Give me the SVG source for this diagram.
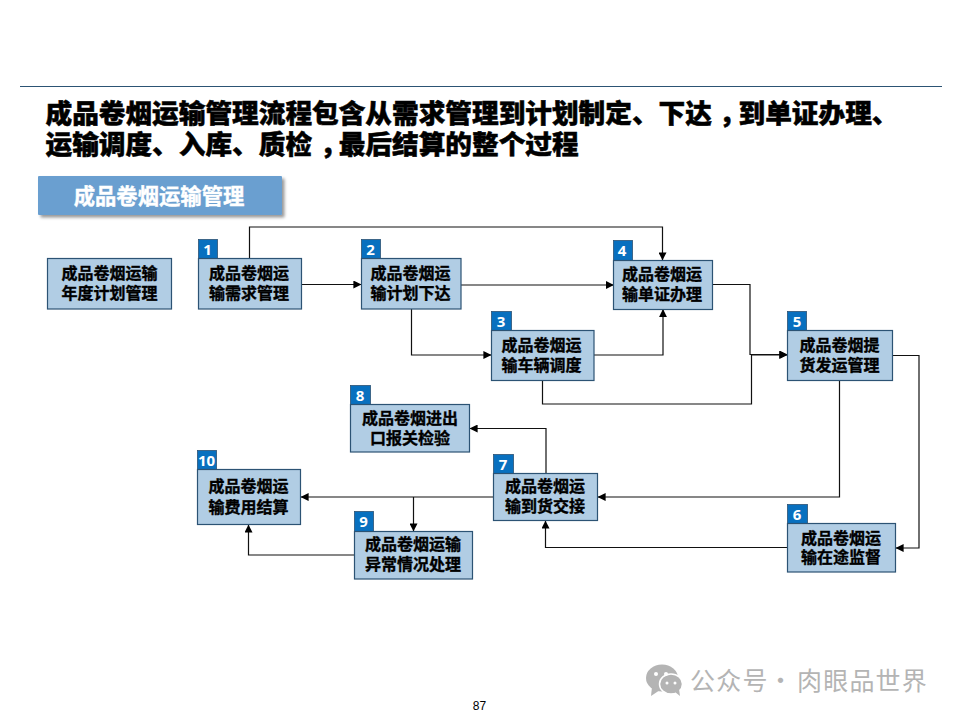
<svg xmlns="http://www.w3.org/2000/svg" width="960" height="720" viewBox="0 0 960 720">
<style>
text{font-family:"Noto Sans CJK SC","Liberation Sans",sans-serif}
.box{fill:#b1cde4;stroke:#2c5374;stroke-width:1.2}
.badge{fill:#0870bf;stroke:#2c5374;stroke-width:.8}
.num{font-family:"Open Sans","DejaVu Sans",sans-serif;font-weight:700;font-size:15px;fill:#fff;text-anchor:middle}
.lbl{font-weight:700;font-size:16px;fill:#000;text-anchor:middle;stroke:#000;stroke-width:.35}
.ttl{font-weight:900;font-size:26.67px;fill:#000;stroke:#000;stroke-width:.5}
.c{fill:none;stroke:#111;stroke-width:1.2;marker-end:url(#a)}
</style>
<defs>
<marker id="a" viewBox="0 0 8 8" refX="7.6" refY="4" markerUnits="userSpaceOnUse" markerWidth="8" markerHeight="8" orient="auto"><path d="M0 0L8 4L0 8Z" fill="#000"/></marker>
<filter id="s" x="-5%" y="-20%" width="115%" height="150%"><feDropShadow dx="2.5" dy="2.5" stdDeviation="1.5" flood-color="#000" flood-opacity=".4"/></filter>
</defs>
<line x1="20" y1="86.500" x2="942" y2="86.500" stroke="#2c5374" stroke-width="1.2"/>
<text class="ttl"><tspan x="45.500" y="122.500">成品卷烟运输管理流程包含从需求管理到计划制定、下达<tspan dx="7">，</tspan><tspan dx="-7">到单证办理、</tspan></tspan><tspan x="45.500" y="154">运输调度、入库、质检<tspan dx="8">，</tspan><tspan dx="-8">最后结算的整个过程</tspan></tspan></text>
<g id="header">
<rect x="38" y="176" width="244" height="39" rx="1" fill="#6a9fd0" filter="url(#s)"/>
<text x="159" y="204" font-size="21.33" font-weight="700" fill="#fff" stroke="#fff" stroke-width=".4" text-anchor="middle">成品卷烟运输管理</text>
</g>
<g id="connectors">
<path class="c" d="M249.500 258.500V227H662.500V260"/>
<path class="c" d="M301.500 284.500H361"/>
<path class="c" d="M461 285H613.500"/>
<path class="c" d="M411.500 309V355H491"/>
<path class="c" d="M594 355H663V309.500"/>
<path class="c" d="M712.500 284.500H750V354.500H787"/>
<path class="c" d="M542.500 380.500V404H751.500V355H787"/>
<path class="c" d="M892.500 355.500H919V548H896"/>
<path class="c" d="M839.500 380.500V497H598"/>
<path class="c" d="M787.500 547.500H545.500V521"/>
<path class="c" d="M546 473.500V428.500H470"/>
<path class="c" d="M493.500 497H301"/>
<path class="c" d="M413.500 497V531"/>
<path class="c" d="M354.500 555H248.500V525"/>
</g>
<g id="node-plan"><rect class="box" x="47.500" y="258.500" width="124" height="50.500"/><text class="lbl"><tspan x="109.500" y="279">成品卷烟运输</tspan><tspan x="109.500" y="299">年度计划管理</tspan></text></g>
<g id="node-1"><rect class="badge" x="198.500" y="239.500" width="19" height="19"/><text class="num" x="207.500" y="254.500">1</text><rect class="box" x="198.500" y="258.500" width="103" height="50.500"/><text class="lbl"><tspan x="249" y="279">成品卷烟运</tspan><tspan x="249" y="299">输需求管理</tspan></text></g>
<g id="node-2"><rect class="badge" x="361.500" y="239.500" width="19" height="19"/><text class="num" x="370.500" y="254.500">2</text><rect class="box" x="361.500" y="258.500" width="99.500" height="50.500"/><text class="lbl"><tspan x="410.500" y="279">成品卷烟运</tspan><tspan x="410.500" y="299">输计划下达</tspan></text></g>
<g id="node-3"><rect class="badge" x="491.500" y="311.500" width="20" height="19"/><text class="num" x="501" y="326.500">3</text><rect class="box" x="491.500" y="330.500" width="102.500" height="50"/><text class="lbl"><tspan x="541.500" y="351">成品卷烟运</tspan><tspan x="541.500" y="371">输车辆调度</tspan></text></g>
<g id="node-4"><rect class="badge" x="613.500" y="240.500" width="19" height="20"/><text class="num" x="622" y="256">4</text><rect class="box" x="613.500" y="260.500" width="99" height="49"/><text class="lbl"><tspan x="662" y="280">成品卷烟运</tspan><tspan x="662" y="300">输单证办理</tspan></text></g>
<g id="node-5"><rect class="badge" x="787.500" y="311.500" width="19" height="19"/><text class="num" x="797" y="326.500">5</text><rect class="box" x="787.500" y="330.500" width="105" height="50"/><text class="lbl"><tspan x="839.500" y="351">成品卷烟提</tspan><tspan x="839.500" y="371">货发运管理</tspan></text></g>
<g id="node-6"><rect class="badge" x="787.500" y="504.500" width="20" height="19"/><text class="num" x="797" y="519.500">6</text><rect class="box" x="787.500" y="523.500" width="108" height="48.500"/><text class="lbl"><tspan x="841" y="544">成品卷烟运</tspan><tspan x="841" y="563">输在途监督</tspan></text></g>
<g id="node-7"><rect class="badge" x="493.500" y="454.500" width="20" height="19"/><text class="num" x="503" y="469.500">7</text><rect class="box" x="493.500" y="473.500" width="104" height="47"/><text class="lbl"><tspan x="545" y="492">成品卷烟运</tspan><tspan x="545" y="512">输到货交接</tspan></text></g>
<g id="node-8"><rect class="badge" x="350.500" y="385.500" width="20" height="19"/><text class="num" x="360" y="400.500">8</text><rect class="box" x="350.500" y="404.500" width="119" height="47.500"/><text class="lbl"><tspan x="410" y="424">成品卷烟进出</tspan><tspan x="410" y="444">口报关检验</tspan></text></g>
<g id="node-9"><rect class="badge" x="354.500" y="511.500" width="19" height="20"/><text class="num" x="363.500" y="527">9</text><rect class="box" x="354.500" y="531.500" width="118" height="47.500"/><text class="lbl"><tspan x="413" y="550">成品卷烟运输</tspan><tspan x="413" y="570">异常情况处理</tspan></text></g>
<g id="node-10"><rect class="badge" x="197.500" y="450.500" width="19" height="19"/><text class="num" x="206.500" y="465.500">10</text><rect class="box" x="197.500" y="469.500" width="103" height="55"/><text class="lbl"><tspan x="248.500" y="492">成品卷烟运</tspan><tspan x="248.500" y="513">输费用结算</tspan></text></g>
<text x="479.500" y="710" font-size="12" style="font-family:'Liberation Sans',sans-serif" fill="#000" text-anchor="middle">87</text>
<g id="watermark" fill="#b4b4b4">
<ellipse cx="662" cy="678" rx="16" ry="13.500"/><path d="M652 687L651 696L660 690Z"/>
<ellipse cx="671" cy="684" rx="11.500" ry="10" stroke="#fff" stroke-width="1.500"/><path d="M675 692L680 696L679 689Z"/>
<circle cx="656" cy="674" r="2" fill="#fff"/><circle cx="666" cy="674" r="2" fill="#fff"/><circle cx="667" cy="683" r="1.500" fill="#fff"/><circle cx="675" cy="683" r="1.500" fill="#fff"/>
<text y="690" font-size="25" letter-spacing="1.200" fill="#b4b4b4"><tspan x="690">公众号</tspan><tspan x="768">·</tspan><tspan x="797">肉眼品世界</tspan></text>
</g>
</svg>
